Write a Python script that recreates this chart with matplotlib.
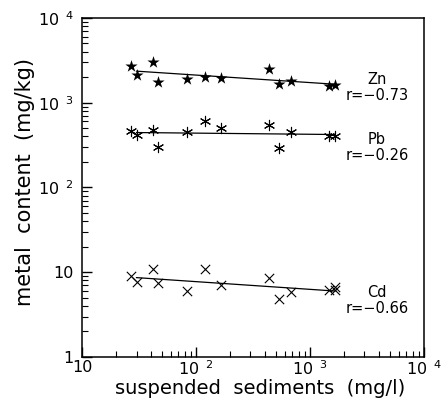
import numpy as np
import matplotlib
matplotlib.use('Agg')
import matplotlib.pyplot as plt
from matplotlib.ticker import FixedLocator, LogLocator, NullFormatter

plt.rcParams['font.family'] = ['DejaVu Sans']
plt.rcParams['mathtext.fontset'] = 'custom'
plt.rcParams['mathtext.rm'] = 'DejaVu Sans'
plt.rcParams['mathtext.it'] = 'DejaVu Sans'

# suspended sediment concentration (mg/l) of each sample
sediments = [27, 30, 42, 46, 84, 120, 165, 435, 530, 680, 1480, 1650]
zn = [2710, 2120, 3030, 1760, 1900, 2010, 1960, 2500, 1660, 1800, 1580, 1620]
pb = [463, 416, 476, 300, 451, 608, 502, 546, 292, 451, 405, 405]
cd_sediments = [27, 30, 42, 46, 84, 120, 165, 435, 530, 680, 1480, 1650, 1650]
cd = [9.0, 7.6, 10.9, 7.4, 6.0, 10.9, 7.0, 8.5, 4.8, 5.8, 6.1, 6.7, 6.1]

metals = ['Zn', 'Pb', 'Cd']
r_values = ['-0.73', '-0.26', '-0.66']
label_y = [1490, 292, 4.56]

fig = plt.figure(figsize=(4.44, 3.98), dpi=100)
ax = fig.add_axes([0.185, 0.103, 0.77, 0.852])
ax.set_xscale('log')
ax.set_yscale('log')
ax.set_xlim(10, 1e4)
ax.set_ylim(1, 1e4)

series = [(sediments, zn, dict(marker='*', s=85, color='black', linewidths=0)),
          (sediments, pb, dict(marker=(6, 2, 0), s=55, color='black', linewidths=0.8)),
          (cd_sediments, cd, dict(marker='x', s=45, color='black', linewidths=0.8))]

for (xs, ys, style), name, r, ly in zip(series, metals, r_values, label_y):
    xs = np.array(xs, dtype=float)
    ys = np.array(ys, dtype=float)
    ax.scatter(xs, ys, zorder=3, **style)
    # regression line in log-log space
    k, b = np.polyfit(np.log10(xs), np.log10(ys), 1)
    xfit = np.array([30.0, xs.max()])
    ax.plot(xfit, 10 ** (k * np.log10(xfit) + b), color='black', lw=0.9)
    ax.text(3850, ly * 1.03, name, ha='center', va='bottom', fontsize=10.5)
    ax.text(3850, ly, 'r=\u2212' + r[1:], ha='center', va='top', fontsize=10.5)

# ticks inside, only left and bottom
ax.tick_params(which='both', direction='in', top=False, right=False)
ax.tick_params(which='major', length=7, width=1.0, labelsize=11.5)
ax.tick_params(axis='x', which='major', pad=2)
ax.tick_params(axis='y', which='major', pad=6)
ax.tick_params(which='minor', length=4, width=0.8)
ax.xaxis.set_major_locator(FixedLocator([10, 100, 1000, 10000]))
ax.yaxis.set_major_locator(FixedLocator([1, 10, 100, 1000, 10000]))
ax.xaxis.set_minor_locator(LogLocator(base=10, subs=np.arange(2, 10)))
ax.yaxis.set_minor_locator(LogLocator(base=10, subs=np.arange(2, 10)))
ax.xaxis.set_minor_formatter(NullFormatter())
ax.yaxis.set_minor_formatter(NullFormatter())
ax.set_xticklabels(['10', r'$\mathregular{10^{\ \ 2}}$', r'$\mathregular{10^{\ \ 3}}$',
                    r'$\mathregular{10^{\ \ 4}}$'])
ax.set_yticklabels(['1', '10', r'$\mathregular{10^{\ \ 2}}$', r'$\mathregular{10^{\ \ 3}}$',
                    r'$\mathregular{10^{\ \ 4}}$'])
for sp in ax.spines.values():
    sp.set_linewidth(1.1)

ax.set_xlabel('suspended  sediments  (mg/l)', fontsize=14)
ax.xaxis.set_label_coords(0.52, -0.066)
ax.set_ylabel('metal  content  (mg/kg)', fontsize=15)
ax.yaxis.set_label_coords(-0.138, 0.516)

fig.savefig('out.png', dpi=100)
